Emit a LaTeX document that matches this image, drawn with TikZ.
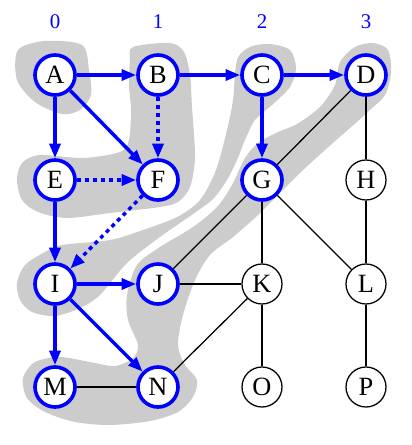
\documentclass[tikz,border=0pt]{standalone}
\usepackage{fontspec}
\setmainfont{Liberation Serif}
\usetikzlibrary{arrows.meta}

\tikzset{
  visited/.style={circle, draw=blue, line width=2pt, fill=white, minimum size=22pt, inner sep=0pt, font=\fontsize{14.5}{16}\selectfont},
  unvisited/.style={circle, draw=black, line width=0.7pt, fill=white, minimum size=22pt, inner sep=0pt, font=\fontsize{14.5}{16}\selectfont},
  treeedge/.style={draw=blue, line width=1.9pt, -{Triangle[length=8pt,width=6pt]}},
  backedge/.style={treeedge, dash pattern=on 2.2pt off 2.2pt},
  plainedge/.style={draw=black, line width=0.7pt},
  layer/.style={fill=gray!40, draw=none}
}

\begin{document}
\begin{tikzpicture}[x=0.55pt, y=-0.55pt]
  \useasboundingbox (0,0) rectangle (412,445);

  % layer regions
  \fill[layer] plot[smooth cycle] coordinates {(18,50) (45,41) (82,45) (89,70) (91,95) (80,110) (62,114) (35,102) (17,80)};
  \fill[layer] plot[smooth cycle] coordinates {(133,47) (170,43) (184,52) (190,75) (192,107) (195,157) (190,187) (178,202) (160,207) (110,213) (67,218) (38,212) (22,200) (17,180) (22,163) (40,155) (83,158) (120,152) (129,140) (131,110) (129,85) (130,60)};
  \fill[layer] plot[smooth cycle] coordinates {(237,60) (250,47) (270,44) (290,50) (296,68) (290,87) (272,105) (255,120) (245,140) (237,160) (227,180) (213,199) (193,214) (160,237) (127,263) (100,295) (80,308) (55,316) (32,312) (20,300) (17,283) (25,265) (45,252) (62,245) (110,240) (143,230) (177,217) (200,200) (216,170) (227,130) (233,100)};
  \fill[layer] plot[smooth cycle] coordinates {(340,62) (355,47) (373,43) (388,50) (391,73) (385,95) (370,110) (350,128) (325,150) (300,173) (278,195) (258,215) (233,237) (210,255) (195,280) (183,315) (178,345) (185,365) (197,380) (193,397) (178,412) (150,421) (110,425) (75,422) (45,412) (27,398) (23,378) (35,362) (60,357) (90,362) (115,366) (133,358) (138,345) (128,320) (127,295) (137,265) (160,247) (193,227) (217,207) (232,185) (245,158) (258,143) (278,132) (297,124) (320,107) (335,85)};

  % column labels
  \foreach \x/\n in {55/0, 158/1, 262/2, 366/3}
    \node[blue, font=\fontsize{11.5}{13}\selectfont] (lab\n) at (\x,22) {\n};

  % vertices
  \node[visited] (A) at (55,75) {A};
  \node[visited] (B) at (158,75) {B};
  \node[visited] (C) at (262,75) {C};
  \node[visited] (D) at (366,75) {D};
  \node[visited] (E) at (55,180) {E};
  \node[visited] (F) at (158,180) {F};
  \node[visited] (G) at (262,180) {G};
  \node[unvisited] (H) at (366,180) {H};
  \node[visited] (I) at (55,284) {I};
  \node[visited] (J) at (158,284) {J};
  \node[unvisited] (K) at (262,284) {K};
  \node[unvisited] (L) at (366,284) {L};
  \node[visited] (M) at (55,387) {M};
  \node[visited] (N) at (158,387) {N};
  \node[unvisited] (O) at (262,387) {O};
  \node[unvisited] (P) at (366,387) {P};

  % other edges
  \draw[plainedge] (D) -- (G);
  \draw[plainedge] (G) -- (J);
  \draw[plainedge] (D) -- (H);
  \draw[plainedge] (H) -- (L);
  \draw[plainedge] (G) -- (K);
  \draw[plainedge] (G) -- (L);
  \draw[plainedge] (J) -- (K);
  \draw[plainedge] (K) -- (N);
  \draw[plainedge] (K) -- (O);
  \draw[plainedge] (L) -- (P);
  \draw[plainedge] (M) -- (N);

  % search edges
  \draw[treeedge] (A) -- (B);
  \draw[treeedge] (B) -- (C);
  \draw[treeedge] (C) -- (D);
  \draw[treeedge] (A) -- (E);
  \draw[treeedge] (A) -- (F);
  \draw[treeedge] (C) -- (G);
  \draw[treeedge] (E) -- (I);
  \draw[treeedge] (I) -- (J);
  \draw[treeedge] (I) -- (M);
  \draw[treeedge] (I) -- (N);
  \draw[backedge] (B) -- (F);
  \draw[backedge] (E) -- (F);
  \draw[backedge] (F) -- (I);
\end{tikzpicture}
\end{document}
